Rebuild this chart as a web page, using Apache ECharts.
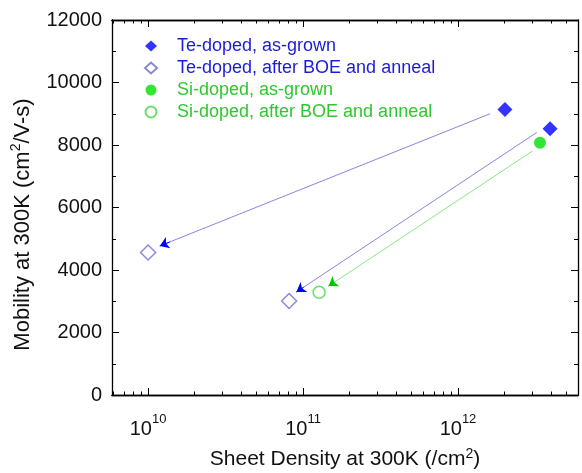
<!DOCTYPE html>
<html>
<head>
<meta charset="utf-8">
<script src="https://cdn.jsdelivr.net/npm/echarts@6/dist/echarts.min.js"></script>
<style>
  html, body { margin: 0; padding: 0; background: #fff; }
  #chart { width: 582px; height: 473px; }
</style>
</head>
<body>
<div id="chart"></div>
<script>
// values
const teGrownX = [2.01e12, 3.93e12];
const teGrownY = [9140, 8520];
const teAnnealX = [1.0e10, 8.13e10];
const teAnnealY = [4560, 3010];
const siGrownX = [3.38e12];
const siGrownY = [8070];
const siAnnealX = [1.27e11];
const siAnnealY = [3285];

// arrows: start (near as-grown) -> tip (near annealed)
const arrowStartX = [1.61e12, 3.22e12, 3.03e12];
const arrowStartY = [9000, 8400, 7810];
const arrowEndX = [1.19e10, 9.06e10, 1.46e11];
const arrowEndY = [4770, 3295, 3485];
const arrowKind = ['te', 'te', 'si'];

const xMajorTicks = [1e10, 1e11, 1e12];
const xMinorMantissa = [2, 3, 4, 5, 6, 7, 8, 9];
const xMinorDecades = [1e9, 1e10, 1e11, 1e12];

const legendNames = [
    'Te-doped, as-grown',
    'Te-doped, after BOE and anneal',
    'Si-doped, as-grown',
    'Si-doped, after BOE and anneal'
];

const xMin = 5.85e9, xMax = 5.95e12;
const FONT = '"Liberation Sans", Arial, sans-serif';

const blue = '#0000ff';
const blueText = '#1c1cd6';
const blueOpen = '#6b6bd0';
const blueShaft = '#8686e2';
const green = '#00e000';
const greenText = '#2ec82e';
const greenOpen = '#46d646';
const greenShaft = '#88e888';

function pairs(xs, ys) {
    return xs.map((x, i) => [x, ys[i]]);
}

const xMinorTicks = [];
xMinorDecades.forEach(d => xMinorMantissa.forEach(m => {
    const v = m * d;
    if (v > xMin && v < xMax) xMinorTicks.push(v);
}));

// shaft lines and short dark segments carrying the arrow heads
const shaftData = arrowStartX.map((x, i) => ({
    coords: [[x, arrowStartY[i]], [arrowEndX[i], arrowEndY[i]]],
    lineStyle: {color: arrowKind[i] === 'te' ? blueShaft : greenShaft}
}));
const headData = arrowStartX.map((x, i) => {
    const t = 0.97;
    const lx = Math.log10(x) + (Math.log10(arrowEndX[i]) - Math.log10(x)) * t;
    const ly = arrowStartY[i] + (arrowEndY[i] - arrowStartY[i]) * t;
    return {
        coords: [[Math.pow(10, lx), ly], [arrowEndX[i], arrowEndY[i]]],
        lineStyle: {color: arrowKind[i] === 'te' ? blue : '#00c800'}
    };
});

function xAxisBase(pos, ticks, len, labels) {
    return {
        type: 'log', logBase: 10, min: xMin, max: xMax, position: pos,
        axisLine: {show: true, lineStyle: {color: '#000', width: 1.3}},
        axisTick: {show: true, inside: true, length: len, customValues: ticks, lineStyle: {color: '#000', width: 1}},
        splitLine: {show: false},
        axisLabel: labels ? {
            show: true, customValues: xMajorTicks, margin: 18,
            formatter: v => '{b|10}{s|' + Math.round(Math.log10(v)) + '}',
            rich: {
                b: {fontSize: 20, fontFamily: FONT, color: '#111', verticalAlign: 'bottom', lineHeight: 26},
                s: {fontSize: 13, fontFamily: FONT, color: '#111', verticalAlign: 'top', lineHeight: 13}
            }
        } : {show: false}
    };
}

function yAxisBase(pos, labels) {
    return {
        type: 'value', min: 0, max: 12000, interval: 2000, position: pos,
        axisLine: {show: true, lineStyle: {color: '#000', width: 1.3}},
        axisTick: {show: true, inside: true, length: 7, lineStyle: {color: '#000', width: 1}},
        minorTick: {show: true, splitNumber: 2, length: 4, lineStyle: {color: '#000', width: 1}},
        splitLine: {show: false},
        axisLabel: labels ? {
            show: true, fontSize: 20, fontFamily: FONT, color: '#111', margin: 10,
            formatter: v => String(v)
        } : {show: false}
    };
}

const chart = echarts.init(document.getElementById('chart'));

const xBottom = xAxisBase('bottom', xMajorTicks, 7, true);
xBottom.name = 'Sheet Density at 300K (/cm{s|2})';
xBottom.nameLocation = 'middle';
xBottom.nameGap = 52;
xBottom.nameTextStyle = {
    fontSize: 21, fontFamily: FONT, color: '#111', lineHeight: 25,
    rich: {s: {fontSize: 14, fontFamily: FONT, color: '#111', verticalAlign: 'top', lineHeight: 14}}
};

const yLeft = yAxisBase('left', true);
yLeft.name = 'Mobility at 300K (cm{s|2}/V-s)';
yLeft.nameLocation = 'middle';
yLeft.nameGap = 55;
yLeft.nameTextStyle = {
    fontSize: 22, fontFamily: FONT, color: '#111', lineHeight: 26,
    padding: [0, 34, 0, 0],
    rich: {s: {fontSize: 14, fontFamily: FONT, color: '#111', verticalAlign: 'top', lineHeight: 14}}
};

const option = {
    animation: false,
    backgroundColor: '#fff',
    grid: {left: 112, right: 4, top: 20, bottom: 78, outerBoundsMode: 'none'},
    xAxis: [
        xBottom,
        xAxisBase('bottom', xMinorTicks, 3.5, false),
        xAxisBase('top', xMajorTicks, 7, false),
        xAxisBase('top', xMinorTicks, 3.5, false)
    ],
    yAxis: [
        yLeft,
        yAxisBase('right', false)
    ],
    legend: {
        orient: 'vertical', left: 144, top: 37, padding: 0,
        itemWidth: 12, itemHeight: 11, itemGap: 4, symbolKeepAspect: true,
        textStyle: {fontSize: 18, fontFamily: FONT, lineHeight: 18, padding: [0, 0, 0, 15]},
        data: [
            {name: legendNames[0], icon: 'diamond', textStyle: {color: blueText}},
            {name: legendNames[1], icon: 'diamond', textStyle: {color: blueText}},
            {name: legendNames[2], icon: 'circle', textStyle: {color: greenText}},
            {name: legendNames[3], icon: 'circle', textStyle: {color: greenText}}
        ]
    },
    series: [
        {
            type: 'lines', coordinateSystem: 'cartesian2d', silent: true,
            symbol: ['none', 'none'], lineStyle: {width: 1, opacity: 1},
            data: shaftData, z: 1
        },
        {
            type: 'lines', coordinateSystem: 'cartesian2d', silent: true,
            symbol: ['none', 'arrow'], symbolSize: [5, 9], lineStyle: {width: 1, opacity: 1},
            data: headData, z: 2
        },
        {
            name: legendNames[0], type: 'scatter', symbol: 'diamond', symbolSize: 15,
            itemStyle: {color: blue}, data: pairs(teGrownX, teGrownY), z: 3
        },
        {
            name: legendNames[1], type: 'scatter', symbol: 'diamond', symbolSize: 15,
            itemStyle: {color: '#fff', borderColor: blueOpen, borderWidth: 1.5},
            data: pairs(teAnnealX, teAnnealY), z: 3
        },
        {
            name: legendNames[2], type: 'scatter', symbol: 'circle', symbolSize: 12,
            itemStyle: {color: green}, data: pairs(siGrownX, siGrownY), z: 3
        },
        {
            name: legendNames[3], type: 'scatter', symbol: 'circle', symbolSize: 12,
            itemStyle: {color: '#fff', borderColor: greenOpen, borderWidth: 1.5},
            data: pairs(siAnnealX, siAnnealY), z: 3
        }
    ]
};

chart.setOption(option);
</script>
</body>
</html>
